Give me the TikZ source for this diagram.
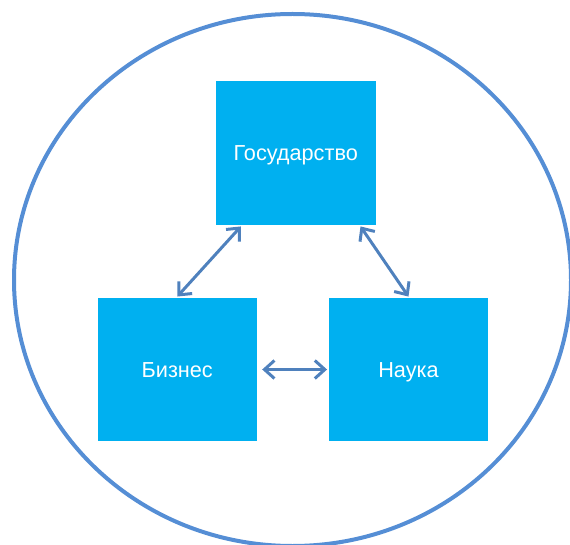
\documentclass[tikz,border=0pt]{standalone}
\usepackage{fontspec}
\setmainfont{Liberation Sans}
\usetikzlibrary{arrows.meta,calc}
\definecolor{boxblue}{RGB}{0,176,240}
\definecolor{ringblue}{RGB}{85,142,213}
\definecolor{linkblue}{RGB}{79,129,189}
\begin{document}
\begin{tikzpicture}[x=1pt,y=-1pt,
  block/.style={fill=boxblue, draw=none, minimum width=159.5pt, minimum height=143.5pt,
    inner sep=0pt, text=white, text height=15.5pt, text depth=0pt,
    font=\fontsize{21.7}{24}\selectfont},
  link/.style={draw=linkblue, line width=3pt,
    {Straight Barb[length=10pt,width=18pt,line width=3pt]}-{Straight Barb[length=10pt,width=18pt,line width=3pt]}}]
  \useasboundingbox (0,0) rectangle (570,545);
  \begin{scope}
    \clip (0,0) rectangle (570,545);
    % outer ring
    \draw[ringblue, line width=4pt] (292.5,280) ellipse [x radius=278.5, y radius=266];
  \end{scope}
  % the three actors
  \node[block] (gov) at (295.75,153) {Государство};
  \node[block] (biz) at (177.25,369.5) {Бизнес};
  \node[block] (sci) at (408.5,369.5) {Наука};
  % border points where the links meet the boxes
  \coordinate (govL) at ($(gov.south west)!0.157!(gov.south east)+(0,1.5)$);
  \coordinate (govR) at ($(gov.south west)!0.905!(gov.south east)+(0,1.5)$);
  \coordinate (bizT) at ($(biz.north)+(0,-1)$);
  \coordinate (sciT) at ($(sci.north)+(0,-1)$);
  \coordinate (bizR) at ($(biz.east)+(5,0)$);
  \coordinate (sciL) at ($(sci.west)+(-1.5,0)$);
  % links
  \draw[link] (govL) -- (bizT);
  \draw[link] (govR) -- (sciT);
  \draw[link] (bizR) -- (sciL);
\end{tikzpicture}
\end{document}
